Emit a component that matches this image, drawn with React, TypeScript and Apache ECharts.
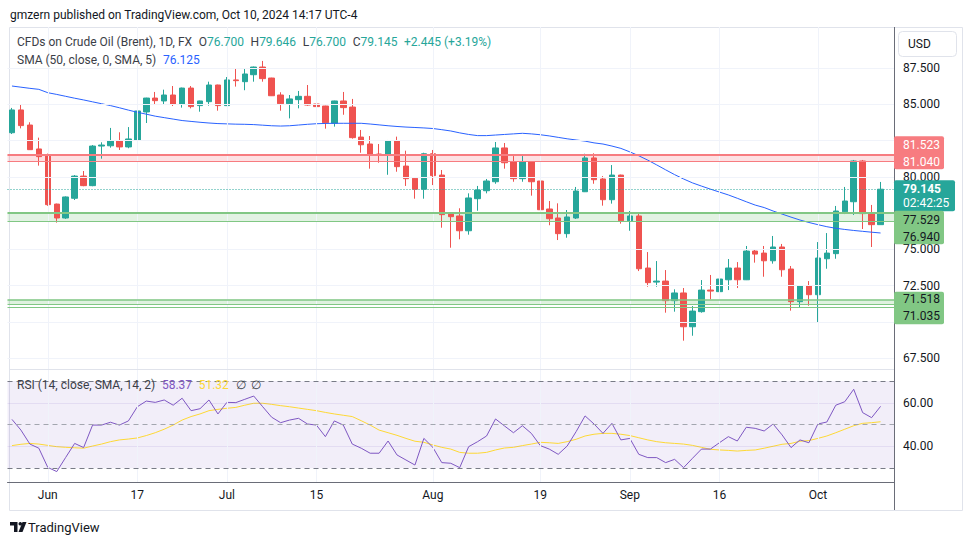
import React, { useEffect, useRef } from 'react';
import * as echarts from 'echarts';

// ---------- data ----------
const OPEN = [83.04, 84.61, 83.57, 81.92, 81.43, 78.12, 77.16, 78.52, 80.05, 79.39,
  82.12, 82.14, 82.47, 82.06, 82.54, 84.47, 85.43, 85.23, 85.64, 85.02,
  86.12, 84.91, 85.18, 86.33, 84.91, 86.68, 86.56, 87.04, 87.57, 86.81,
  85.64, 85.04, 85.32, 85.55, 85.02, 84.88, 83.69, 85.23, 84.81, 82.74,
  82.26, 81.57, 81.52, 82.47, 80.74, 79.90, 79.14, 81.59, 80.12, 77.43,
  77.30, 76.28, 78.49, 79.04, 79.66, 81.99, 81.02, 79.87, 81.02, 79.71,
  77.78, 77.16, 76.08, 77.16, 78.97, 81.30, 79.85, 78.42, 80.12, 76.97,
  77.30, 73.71, 72.74, 72.81, 71.46, 71.99, 69.66, 70.70, 72.19, 72.08,
  72.90, 73.71, 72.90, 74.88, 74.74, 74.21, 75.16, 73.64, 71.39, 72.47,
  71.87, 74.35, 74.70, 77.59, 78.28, 81.09, 77.50, 76.70];
const CLOSE = [84.61, 83.53, 81.87, 81.39, 78.08, 77.16, 78.61, 80.05, 79.39, 82.12,
  82.19, 82.47, 82.06, 82.61, 84.54, 85.43, 85.25, 85.64, 85.02, 86.12,
  84.84, 85.23, 86.33, 84.91, 86.68, 86.63, 87.09, 87.57, 86.77, 85.59,
  85.04, 85.37, 85.55, 84.95, 84.84, 83.73, 85.23, 84.77, 82.70, 82.21,
  81.52, 81.52, 82.47, 80.70, 79.87, 79.14, 81.59, 80.08, 77.39, 77.25,
  76.28, 78.54, 79.09, 79.71, 81.99, 80.97, 79.87, 81.02, 79.66, 77.73,
  77.11, 76.08, 77.23, 79.02, 81.30, 79.80, 78.42, 80.12, 76.97, 77.30,
  73.66, 72.70, 72.81, 71.46, 71.99, 69.66, 70.74, 72.19, 72.12, 72.95,
  73.71, 72.90, 74.88, 74.67, 74.21, 75.16, 73.59, 71.39, 72.47, 71.87,
  74.40, 74.74, 77.64, 78.33, 81.09, 77.46, 76.70, 79.145];
const LOW = [82.95, 83.34, 81.85, 80.77, 78.00, 76.84, 77.10, 78.40, 79.35, 79.35,
  81.25, 82.01, 81.85, 81.97, 82.14, 83.71, 84.95, 84.95, 84.88, 84.77,
  84.72, 84.49, 84.91, 84.56, 84.88, 86.22, 85.97, 86.56, 86.56, 85.57,
  84.56, 84.03, 84.72, 84.90, 84.47, 83.32, 83.46, 84.28, 82.63, 81.66,
  80.56, 80.97, 80.14, 80.35, 79.37, 78.49, 78.49, 79.43, 76.49, 75.11,
  75.69, 76.01, 77.66, 78.86, 79.52, 80.56, 79.66, 79.66, 78.70, 77.55,
  76.66, 75.64, 75.80, 77.09, 78.95, 79.52, 78.01, 78.15, 76.77, 76.28,
  73.50, 72.42, 72.42, 70.63, 70.70, 68.70, 69.04, 70.63, 71.55, 71.57,
  72.19, 72.33, 72.88, 74.08, 73.11, 74.01, 73.11, 70.77, 70.97, 71.11,
  69.94, 73.66, 74.35, 77.43, 77.37, 76.40, 75.16, 76.70];
const HIGH = [84.75, 85.02, 83.76, 82.70, 81.60, 78.15, 78.65, 80.12, 80.40, 82.19,
  82.38, 83.37, 83.07, 83.43, 84.56, 85.45, 85.85, 86.01, 86.26, 86.15,
  86.26, 85.25, 86.56, 86.35, 86.88, 87.48, 87.43, 87.60, 87.99, 86.83,
  85.83, 85.64, 85.92, 86.33, 85.30, 84.90, 85.25, 85.85, 85.37, 83.23,
  82.81, 82.26, 82.54, 82.77, 81.80, 79.97, 81.66, 81.85, 80.47, 77.45,
  77.83, 78.86, 79.37, 79.85, 82.40, 82.33, 81.43, 81.43, 81.05, 79.78,
  78.33, 78.17, 77.71, 79.30, 81.59, 81.62, 80.05, 80.81, 80.15, 77.64,
  77.57, 74.81, 74.19, 73.57, 72.24, 72.33, 71.09, 72.88, 73.23, 73.43,
  74.33, 74.12, 75.23, 75.02, 75.23, 75.92, 75.37, 73.85, 72.50, 72.81,
  75.50, 76.12, 77.99, 79.30, 81.16, 81.16, 78.06, 79.646];
const SMA50 = [86.26, 86.18, 86.10, 86.03, 85.80, 85.68, 85.55, 85.42, 85.30, 85.17,
  85.04, 84.91, 84.76, 84.60, 84.45, 84.32, 84.18, 84.08, 83.98, 83.88,
  83.82, 83.76, 83.71, 83.67, 83.65, 83.63, 83.62, 83.60, 83.56, 83.52,
  83.50, 83.52, 83.57, 83.62, 83.66, 83.68, 83.69, 83.69, 83.69, 83.69,
  83.64, 83.58, 83.52, 83.47, 83.43, 83.40, 83.37, 83.33, 83.25, 83.16,
  83.03, 82.92, 82.84, 82.84, 82.88, 82.92, 82.96, 83.00, 82.96, 82.90,
  82.82, 82.72, 82.62, 82.54, 82.46, 82.34, 82.26, 82.12, 81.96, 81.72,
  81.45, 81.15, 80.82, 80.48, 80.15, 79.85, 79.58, 79.36, 79.15, 78.95,
  78.75, 78.52, 78.28, 78.05, 77.88, 77.64, 77.43, 77.22, 77.02, 76.85,
  76.70, 76.56, 76.45, 76.37, 76.30, 76.24, 76.18, 76.125];
const RSI = [52.4, 47.5, 41.1, 39.2, 30.4, 28.5, 35.0, 41.4, 39.5, 49.8,
  49.8, 51.1, 49.8, 51.7, 58.2, 60.8, 60.2, 61.3, 58.9, 62.1,
  56.4, 57.3, 61.3, 54.9, 60.2, 60.1, 61.6, 63.1, 58.2, 53.4,
  50.9, 52.1, 52.9, 50.3, 49.8, 44.5, 51.7, 49.8, 41.1, 39.2,
  36.9, 36.9, 42.5, 36.1, 33.8, 31.5, 43.7, 39.6, 32.6, 32.3,
  30.3, 39.9, 42.2, 44.8, 52.6, 49.4, 46.3, 49.5, 46.0, 40.4,
  38.8, 36.4, 40.2, 46.8, 54.0, 50.3, 46.0, 50.6, 43.0, 43.7,
  36.4, 34.9, 34.9, 32.6, 34.1, 30.3, 34.6, 38.8, 38.8, 41.7,
  44.5, 42.5, 48.8, 48.3, 47.1, 50.3, 45.3, 39.5, 43.0, 41.7,
  50.3, 51.2, 58.9, 60.5, 66.2, 55.5, 53.2, 58.37];
const RSI_MA = [40.4, 41.0, 41.4, 41.1, 40.5, 39.9, 39.6, 39.4, 39.2, 40.2,
  41.1, 42.2, 43.0, 43.4, 43.9, 45.0, 46.3, 47.9, 49.8, 52.1,
  53.7, 54.9, 56.4, 57.0, 57.5, 57.9, 58.9, 59.8, 59.8, 59.3,
  58.7, 58.2, 57.6, 57.0, 56.4, 55.6, 54.9, 54.3, 53.7, 51.8,
  49.8, 47.5, 46.3, 45.1, 43.7, 42.4, 41.9, 40.7, 39.6, 38.8,
  37.3, 36.9, 36.9, 37.3, 38.4, 39.3, 39.6, 40.4, 41.1, 41.9,
  41.7, 41.4, 42.2, 43.3, 44.8, 45.6, 46.0, 46.0, 45.6, 45.0,
  44.0, 43.0, 42.2, 41.7, 41.4, 41.1, 40.5, 39.6, 38.7, 38.4,
  38.2, 37.9, 38.2, 38.4, 39.2, 40.1, 41.0, 41.4, 42.4, 42.7,
  43.7, 44.8, 46.3, 47.9, 49.5, 50.6, 50.9, 51.32];

const PRICE_TICKS = [67.5, 70, 72.5, 75, 77.5, 80, 82.5, 85, 87.5];
// tick labels that are not hidden behind the price badges
const PRICE_TICK_LABELS = [67.5, 72.5, 75, 80, 85, 87.5];
const RSI_GRID = [40, 60];
const RSI_BAND = [30, 70];
const RSI_MID = 50;
const X_LABELS: Record<string, string> = {
  '2024-06-03': 'Jun', '2024-06-17': '17', '2024-07-01': 'Jul', '2024-07-15': '15',
  '2024-08-01': 'Aug', '2024-08-19': '19', '2024-09-02': 'Sep', '2024-09-16': '16',
  '2024-10-01': 'Oct',
};
const RED_ZONE = [81.04, 81.523];
const GREEN_ZONE_1 = [76.94, 77.529];
const GREEN_ZONE_2 = [71.035, 71.518];
const GREEN_ZONE_2_MID = 71.23;
const COUNTDOWN = '02:42:25';

function weekdays(start: string, end: string) {
  const out: string[] = [];
  const d = new Date(start + 'T00:00:00Z');
  const e = new Date(end + 'T00:00:00Z');
  while (d <= e) {
    const wd = d.getUTCDay();
    if (wd !== 0 && wd !== 6) out.push(d.toISOString().slice(0, 10));
    d.setUTCDate(d.getUTCDate() + 1);
  }
  return out;
}
const DATES = weekdays('2024-05-28', '2024-10-10');
const CATS = [...DATES, ' '];

const FONT = "Roboto, 'Noto Sans', Arial, sans-serif";
const UP = '#26a69a';
const DOWN = '#ef5350';
const TXT = '#131722';
const GRIDC = '#f0f3fa';

function buildOption() {
  const candles = DATES.map((_, i) => [OPEN[i], CLOSE[i], LOW[i], HIGH[i]]);
  const nulls = CATS.map(() => null);
  const vLines = Object.keys(X_LABELS).map((d) => ({ xAxis: d, label: { show: false } }));
  const zoneLine = (v: number, color: string, width: number) => ({
    yAxis: v, lineStyle: { color, width, type: 'solid' }, label: { show: false },
  });
  return {
    animation: false,
    backgroundColor: '#ffffff',
    textStyle: { fontFamily: FONT },
    grid: [
      { left: 7.5, right: 76, top: 27, height: 345 },
      { left: 7.5, right: 76, top: 372, height: 110 },
    ],
    xAxis: [
      { type: 'category', data: CATS, gridIndex: 0, boundaryGap: true, show: false },
      {
        type: 'category', data: CATS, gridIndex: 1, boundaryGap: true,
        axisLine: { lineStyle: { color: '#6a6d78', width: 1 } },
        axisTick: { show: false },
        splitLine: { show: false },
        axisLabel: {
          interval: (_i: number, v: string) => !!X_LABELS[v],
          formatter: (v: string) => X_LABELS[v] || '',
          color: TXT, fontSize: 12, margin: 7, fontFamily: FONT,
        },
      },
    ],
    yAxis: [
      { type: 'value', gridIndex: 0, min: 66.54, max: 90.33, show: false, scale: true },
      { type: 'value', gridIndex: 1, min: 23.72, max: 74.12, show: false, scale: true },
    ],
    series: [
      {
        name: 'priceGrid', type: 'line', xAxisIndex: 0, yAxisIndex: 0, data: nulls,
        showSymbol: false, silent: true, z: 1,
        markArea: {
          silent: true,
          data: [
            [{ yAxis: RED_ZONE[0], itemStyle: { color: 'rgba(242,54,69,0.15)' } }, { yAxis: RED_ZONE[1] }],
            [{ yAxis: GREEN_ZONE_1[0], itemStyle: { color: 'rgba(76,175,80,0.16)' } }, { yAxis: GREEN_ZONE_1[1] }],
            [{ yAxis: GREEN_ZONE_2_MID, itemStyle: { color: 'rgba(76,175,80,0.18)' } }, { yAxis: GREEN_ZONE_2[1] }],
          ],
        },
        markLine: {
          silent: true, symbol: 'none', precision: 3,
          lineStyle: { color: GRIDC, width: 1, type: 'solid' },
          label: { show: false },
          data: [
            ...PRICE_TICKS.map((v) => ({ yAxis: v })),
            ...vLines,
            zoneLine(RED_ZONE[1], '#f77c80', 2),
            zoneLine(RED_ZONE[0], '#f77c80', 1),
            zoneLine(GREEN_ZONE_1[1], '#81c784', 2),
            zoneLine(GREEN_ZONE_1[0], '#81c784', 1),
            zoneLine(GREEN_ZONE_2[1], '#81c784', 1.5),
            zoneLine(GREEN_ZONE_2_MID, '#81c784', 1),
            zoneLine(GREEN_ZONE_2[0], '#81c784', 1),
            { yAxis: CLOSE[CLOSE.length - 1], lineStyle: { color: UP, width: 1, type: [1, 2] }, label: { show: false } },
          ],
        },
      },
      {
        name: 'Brent', type: 'candlestick', xAxisIndex: 0, yAxisIndex: 0, data: candles,
        barWidth: 6, z: 3,
        itemStyle: { color: UP, color0: DOWN, borderColor: UP, borderColor0: DOWN, borderWidth: 1 },
      },
      {
        name: 'SMA', type: 'line', xAxisIndex: 0, yAxisIndex: 0, data: SMA50,
        showSymbol: false, z: 4, lineStyle: { color: '#2962ff', width: 1 }, itemStyle: { color: '#2962ff' },
      },
      {
        name: 'rsiGrid', type: 'line', xAxisIndex: 1, yAxisIndex: 1, data: nulls,
        showSymbol: false, silent: true, z: 1,
        markArea: {
          silent: true,
          data: [[{ yAxis: RSI_BAND[0], itemStyle: { color: 'rgba(126,87,194,0.1)' } }, { yAxis: RSI_BAND[1] }]],
        },
        markLine: {
          silent: true, symbol: 'none',
          lineStyle: { color: 'rgba(126,87,194,0.12)', width: 1, type: 'solid' },
          label: { show: false },
          data: [
            ...RSI_GRID.map((v) => ({ yAxis: v })),
            ...vLines.map((l) => ({ ...l, lineStyle: { color: GRIDC } })),
            { yAxis: RSI_BAND[1], lineStyle: { color: '#787b86', type: [5, 4] } },
            { yAxis: RSI_BAND[0], lineStyle: { color: '#787b86', type: [5, 4] } },
            { yAxis: RSI_MID, lineStyle: { color: '#a3a6af', type: [5, 4] } },
          ],
        },
      },
      {
        name: 'RSI', type: 'line', xAxisIndex: 1, yAxisIndex: 1, data: RSI,
        showSymbol: false, z: 4, lineStyle: { color: '#7e57c2', width: 1 }, itemStyle: { color: '#7e57c2' },
      },
      {
        name: 'RSI MA', type: 'line', xAxisIndex: 1, yAxisIndex: 1, data: RSI_MA,
        showSymbol: false, z: 3, lineStyle: { color: '#fdd835', width: 1 }, itemStyle: { color: '#fdd835' },
      },
    ],
  };
}

function badge(x: number, top: number, w: number, h: number, fill: string, lines: { t: string; y: number; c: string; bold?: boolean }[]) {
  return [
    { type: 'rect', z: 100, shape: { x, y: top, width: w, height: h, r: 2 }, style: { fill } },
    ...lines.map((l) => ({
      type: 'text', z: 101, x: 903, y: l.y,
      style: { text: l.t, fill: l.c, font: `${l.bold ? 'bold ' : ''}12px ${FONT}`, verticalAlign: 'middle', align: 'left' },
    })),
  ];
}

export default function App() {
  const ref = useRef<HTMLDivElement>(null);
  useEffect(() => {
    if (!ref.current) return;
    const chart = echarts.init(ref.current, null, { renderer: 'svg' });
    chart.setOption(buildOption() as any);
    const py = (v: number) => chart.convertToPixel({ yAxisIndex: 0 }, v) as number;
    const n = CLOSE.length;
    const last = CLOSE[n - 1];
    const chg = last - CLOSE[n - 2];
    const pct = (chg / CLOSE[n - 2]) * 100;
    const yLast = py(last);
    const yRed = py(RED_ZONE[1]);
    const yG1 = py(GREEN_ZONE_1[1]);
    const yG2 = py(GREEN_ZONE_2[1]);
    const LF = 12;

    const elements: any[] = [
      { type: 'rect', z: 0, shape: { x: 9.5, y: 27.5, width: 953, height: 483 }, style: { fill: 'none', stroke: '#e0e3eb', lineWidth: 1 } },
      { type: 'rect', z: 90, shape: { x: 894.5, y: 28, width: 67.5, height: 454 }, style: { fill: '#ffffff' } },
      { type: 'line', z: 95, shape: { x1: 894.5, y1: 27, x2: 894.5, y2: 510 }, style: { stroke: '#6a6d78', lineWidth: 1 } },
      { type: 'line', z: 5, shape: { x1: 9, y1: 369.5, x2: 894, y2: 369.5 }, style: { stroke: '#e0e3eb', lineWidth: 1 } },
      {
        type: 'text', z: 50, x: 10, y: 15,
        style: { text: 'gmzern published on TradingView.com, Oct 10, 2024 14:17 UTC-4', fill: TXT, font: `12px ${FONT}`, verticalAlign: 'middle' },
      },
      {
        type: 'text', z: 50, x: 17, y: 42,
        style: {
          text: `{t|CFDs on Crude Oil (Brent), 1D, FX}  {t|O}{v|${OPEN[n - 1].toFixed(3)}}  {t|H}{v|${HIGH[n - 1].toFixed(3)}}  {t|L}{v|${LOW[n - 1].toFixed(3)}}  {t|C}{v|${last.toFixed(3)}}  {v|+${chg.toFixed(3)} (+${pct.toFixed(2)}%)}`,
          verticalAlign: 'middle',
          rich: {
            t: { fill: '#3b3e47', fontSize: LF, fontFamily: FONT },
            v: { fill: UP, fontSize: LF, fontFamily: FONT },
          },
        },
      },
      {
        type: 'text', z: 50, x: 17, y: 60,
        style: {
          text: `{t|SMA (50, close, 0, SMA, 5)}  {b|${SMA50[n - 1].toFixed(3)}}`,
          verticalAlign: 'middle',
          rich: {
            t: { fill: '#3b3e47', fontSize: LF, fontFamily: FONT },
            b: { fill: '#2962ff', fontSize: LF, fontFamily: FONT },
          },
        },
      },
      {
        type: 'text', z: 50, x: 17, y: 385,
        style: {
          text: `{t|RSI (14, close, SMA, 14, 2)}  {p|${RSI[n - 1].toFixed(2)}}  {y|${RSI_MA[n - 1].toFixed(2)}}  {t|∅  ∅}`,
          verticalAlign: 'middle',
          rich: {
            t: { fill: '#3b3e47', fontSize: LF, fontFamily: FONT },
            p: { fill: '#7e57c2', fontSize: LF, fontFamily: FONT },
            y: { fill: '#fdd835', fontSize: LF, fontFamily: FONT },
          },
        },
      },
      { type: 'rect', z: 100, shape: { x: 898.5, y: 31.5, width: 58, height: 25, r: 4 }, style: { fill: '#ffffff', stroke: '#e0e3eb', lineWidth: 1 } },
      { type: 'text', z: 101, x: 908, y: 44, style: { text: 'USD', fill: TXT, font: `12px ${FONT}`, verticalAlign: 'middle' } },
      ...PRICE_TICK_LABELS.map((v) => ({
        type: 'text', z: 96, x: 903, y: py(v),
        style: { text: v.toFixed(3), fill: TXT, font: `12px ${FONT}`, verticalAlign: 'middle' },
      })),
      ...RSI_GRID.map((v) => ({
        type: 'text', z: 96, x: 903, y: chart.convertToPixel({ yAxisIndex: 1 }, v) as number,
        style: { text: v.toFixed(2), fill: TXT, font: `12px ${FONT}`, verticalAlign: 'middle' },
      })),
      ...badge(894, yRed - 18.5, 50, 33, '#f77c80', [
        { t: RED_ZONE[1].toFixed(3), y: yRed - 9.7, c: '#ffffff' },
        { t: RED_ZONE[0].toFixed(3), y: yRed + 7, c: '#ffffff' },
      ]),
      ...badge(894, yLast - 9, 61, 31, UP, [
        { t: last.toFixed(3), y: yLast - 0.5, c: '#ffffff', bold: true },
        { t: COUNTDOWN, y: yLast + 13.5, c: '#ffffff' },
      ]),
      ...badge(894, yG1 - 1.8, 50, 33.5, '#81c784', [
        { t: GREEN_ZONE_1[1].toFixed(3), y: yG1 + 7.5, c: TXT },
        { t: GREEN_ZONE_1[0].toFixed(3), y: yG1 + 24, c: TXT },
      ]),
      ...badge(894, yG2 - 8, 50, 32.5, '#81c784', [
        { t: GREEN_ZONE_2[1].toFixed(3), y: yG2 - 0.5, c: TXT },
        { t: GREEN_ZONE_2[0].toFixed(3), y: yG2 + 16.2, c: TXT },
      ]),
      // TradingView logo
      { type: 'polygon', z: 50, shape: { points: [[10, 522], [17.5, 522], [17.5, 532], [14, 532], [14, 525.5], [10, 525.5]] }, style: { fill: TXT } },
      { type: 'circle', z: 50, shape: { cx: 20.3, cy: 523.8, r: 1.8 }, style: { fill: TXT } },
      { type: 'polygon', z: 50, shape: { points: [[22.5, 522], [26.5, 522], [22.5, 532], [18.5, 532]] }, style: { fill: TXT } },
      { type: 'text', z: 50, x: 28, y: 527, style: { text: 'TradingView', fill: TXT, font: `13px ${FONT}`, verticalAlign: 'middle' } },
    ];
    chart.setOption({ graphic: { elements } });
    return () => chart.dispose();
  }, []);
  return <div ref={ref} style={{ position: 'fixed', left: 0, top: 0, width: 970, height: 545 }} />;
}
